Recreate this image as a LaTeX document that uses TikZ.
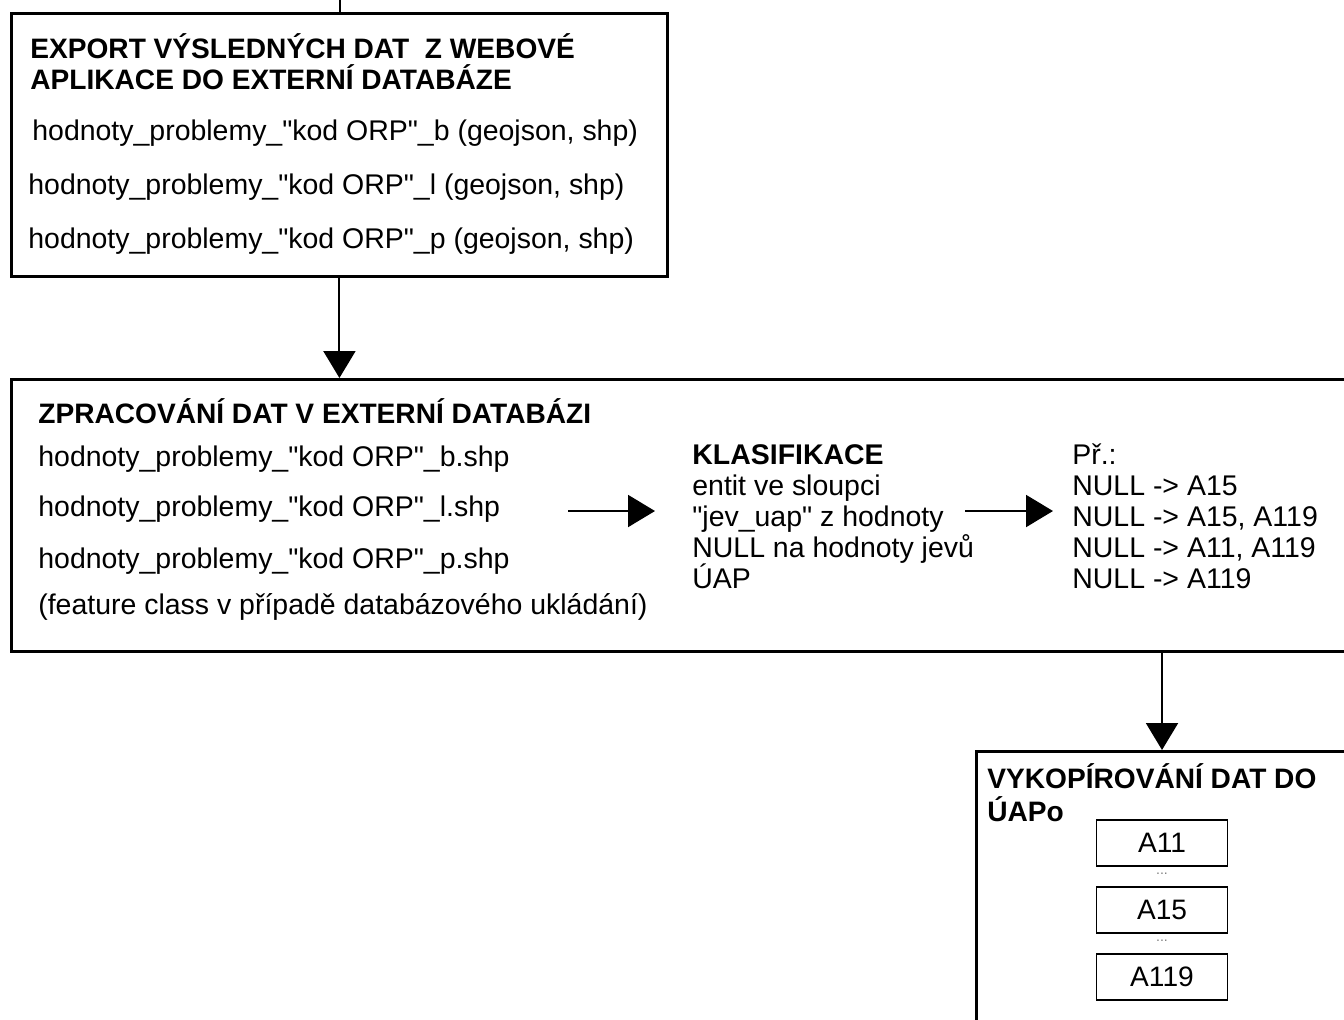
\documentclass[tikz,border=0pt]{standalone}
\usepackage{fontspec}
\setmainfont{Liberation Sans}
\usetikzlibrary{positioning,arrows.meta,calc}

\newcommand{\qq}{\textquotedbl}

\tikzset{
  stage/.style={draw, line width=1.7pt, anchor=north west, inner sep=0pt},
  txt/.style={anchor=west, inner sep=0pt, font=\fontsize{16.2}{17.6}\selectfont},
  head/.style={txt, font=\bfseries\fontsize{16}{17.6}\selectfont, align=left},
  flow/.style={-{Triangle[length=0.54cm,width=0.64cm]}, line width=1.1pt},
  layer/.style={draw, line width=1.1pt, minimum width=2.62cm, minimum height=0.92cm, inner sep=0pt, font=\fontsize{16}{17.6}\selectfont},
  gap/.style={font=\footnotesize, text=gray, inner sep=0pt},
}

\begin{document}
\begin{tikzpicture}[x=0.02cm,y=-0.02cm]
\useasboundingbox (0,0) rectangle (1344,1019);
\clip (0,0) rectangle (1344,1019);
% Stage boxes
\node[stage, minimum width=13.12cm, minimum height=5.26cm] (export) at (10,12) {};
\node[stage, minimum width=27.2cm, minimum height=5.44cm] (proc) at (10,378) {};
\node[stage, minimum width=7.8cm, minimum height=6cm] (out) at (975,750) {};
% Export stage
\node[head] (exportT) at (30,62) {EXPORT VÝSLEDNÝCH DAT\ \ Z WEBOVÉ\\APLIKACE DO EXTERNÍ DATABÁZE};
\node[txt] (expB) at (32,133) {hodnoty\_problemy\_\qq kod ORP\qq\_b (geojson, shp)};
\node[txt] (expL) at (28,187) {hodnoty\_problemy\_\qq kod ORP\qq\_l (geojson, shp)};
\node[txt] (expP) at (28,241) {hodnoty\_problemy\_\qq kod ORP\qq\_p (geojson, shp)};
% Processing stage
\node[head] (procT) at (38,411) {ZPRACOVÁNÍ DAT V EXTERNÍ DATABÁZI};
\node[txt] (fileB) at (38,459) {hodnoty\_problemy\_\qq kod ORP\qq\_b.shp};
\node[txt] (fileL) at (38,509) {hodnoty\_problemy\_\qq kod ORP\qq\_l.shp};
\node[txt] (fileP) at (38,561) {hodnoty\_problemy\_\qq kod ORP\qq\_p.shp};
\node[txt] (fileFC) at (38,607) {(feature class v případě databázového ukládání)};
\node[txt, align=left] (klas) at (692,517) {\textbf{KLASIFIKACE}\\entit ve sloupci\\\qq jev\_uap\qq{} z hodnoty\\NULL na hodnoty jevů\\ÚAP};
\node[txt, align=left] (ex) at (1072,516) {Př.:\\NULL -> A15\\NULL -> A15, A119\\NULL -> A11, A119\\NULL -> A119};
% Output stage
\node[head, font=\bfseries\fontsize{16}{18.8}\selectfont] (outT) at (987,793) {VYKOPÍROVÁNÍ DAT DO\\ÚAPo};
\node[layer] (a11) at (1162,843) {A11};
\node[layer] (a15) at (1162,910) {A15};
\node[layer] (a119) at (1162,977) {A119};
\node[gap] (dots1) at ($(a11)!0.5!(a15)+(0,-3)$) {...};
\node[gap] (dots2) at ($(a15)!0.5!(a119)+(0,-3)$) {...};
% Connectors
\coordinate (feed) at (340,0);
\draw[line width=1.1pt] (feed) -- (feed |- export.north);
\draw[flow] (export.south) -- (export.south |- proc.north);
\draw[flow] ($(klas.west)+(-124,-6)$) -- ($(klas.west)+(-37,-6)$);
\draw[flow] ($(ex.west)+(-107,-5)$) -- ($(ex.west)+(-19,-5)$);
\draw[flow] (a11 |- proc.south) -- (a11 |- out.north);
\end{tikzpicture}
\end{document}
